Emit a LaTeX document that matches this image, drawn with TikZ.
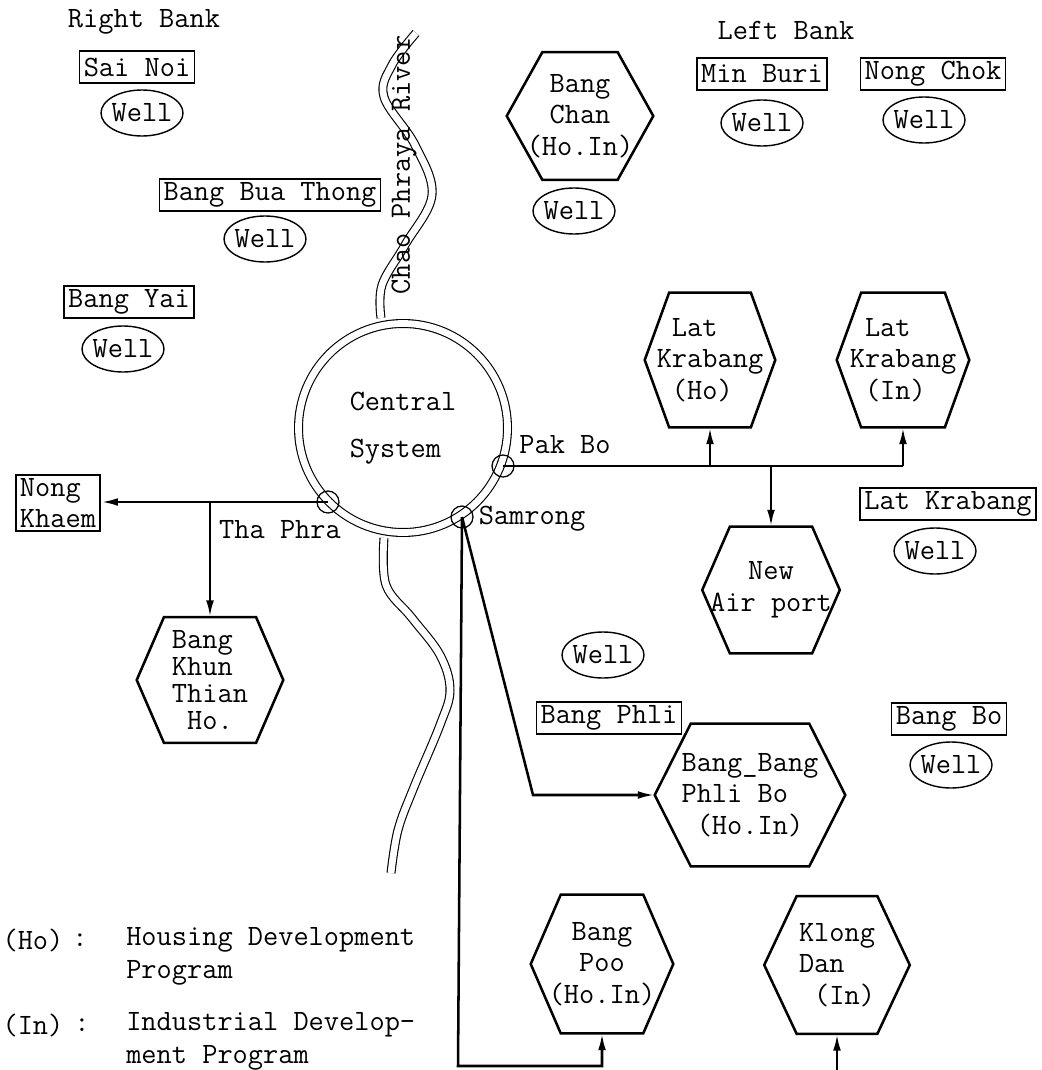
\documentclass[tikz,border=0pt]{standalone}
\usepackage{fontspec}
\usetikzlibrary{arrows.meta,shapes.geometric}
\newcommand{\typewriter}{\fontsize{21}{22.5}\selectfont\ttfamily}

\begin{document}
\begin{tikzpicture}[x=0.25mm,y=-0.25mm,
  font=\typewriter,
  town/.style={draw,line width=1.2pt,inner xsep=3pt,inner ysep=2pt,minimum height=0.8cm},
  well/.style={draw,ellipse,line width=1pt,inner xsep=-1.5pt,inner ysep=0pt,
    minimum width=2.05cm,minimum height=1.15cm},
  hexa/.style={inner sep=0pt,align=center,
    append after command={\pgfextra{\draw[line width=1.8pt,line join=miter]
      ([xshift=#1]\tikzlastnode.north west) -- ([xshift=-#1]\tikzlastnode.north east)
      -- (\tikzlastnode.east) -- ([xshift=-#1]\tikzlastnode.south east)
      -- ([xshift=#1]\tikzlastnode.south west) -- (\tikzlastnode.west) -- cycle;}}},
  hexa/.default=0.7cm,
  joint/.style={draw,circle,line width=0.9pt,minimum size=0.55cm,inner sep=0pt},
  bank/.style={line width=0.8pt,double,double distance=4.8pt},
  pipe/.style={line width=1.8pt},
  feed/.style={pipe,-{Latex[length=12pt,width=5.5pt]}},
  note/.style={anchor=west,align=left,inner sep=0pt,font=\fontsize{21}{23.5}\selectfont\ttfamily}
]
\useasboundingbox (0,0) rectangle (1041,1070);

% river
\draw[bank] plot[smooth,tension=0.6] coordinates {(381,318) (382,285) (405,245)
  (432,195) (415,145) (384,97) (392,65) (416,33)};
\draw[bank] plot[smooth,tension=0.6] coordinates {(384,538) (386,585) (412,618)
  (440,655) (450,690) (440,725) (414,787) (398,830) (391,873)};
\node[rotate=90] (rivername) at (404,165) {Chao Phraya River};

% right bank
\node (rightbank) at (144,22) {Right Bank};
\node[town] (sainoi) at (137,67) {Sai Noi};
\node[well] (sainoiwell) at (142,113) {Well};
\node[town] (buathong) at (270,195) {Bang Bua Thong};
\node[well] (buathongwell) at (265,239) {Well};
\node[town] (bangyai) at (129,302) {Bang Yai};
\node[well] (bangyaiwell) at (123,349) {Well};

% left bank
\node (leftbank) at (786,30) {Left Bank};
\node[hexa=0.89cm,minimum width=3.65cm,minimum height=3.175cm] (bangchan) at (580,116)
  {Bang\\Chan\\(Ho.In)};
\node[well] (bangchanwell) at (574,211) {Well};
\node[town] (minburi) at (762,74) {Min Buri};
\node[well] (minburiwell) at (762,123) {Well};
\node[town] (nongchok) at (933,74) {Nong Chok};
\node[well] (nongchokwell) at (924,120) {Well};

% central system
\node[circle,draw,bank,minimum size=5.225cm,align=left] (central) at (403,428)
  {Central\\[11pt]System};
\node[joint] (pakbo) at (503,466) {};
\node[joint] (thaphra) at (328,502) {};
\node[joint] (samrong) at (462,517) {};
\node (pakbolabel) at (565,445) {Pak Bo};
\node (thaphralabel) at (280,530) {Tha Phra};
\node (samronglabel) at (532,519) {Samrong};

% service areas
\node[town,align=left] (nongkhaem) at (58,503) {Nong\\Khaem};
\node[hexa=0.68cm,minimum width=3.65cm,minimum height=3.125cm,align=left,
  font=\fontsize{21}{19}\selectfont\ttfamily] (khunthian) at (210,680)
  {Bang\\Khun\\Thian\\\ Ho.};
\node[hexa=0.61cm,minimum width=3.25cm,minimum height=3.35cm,align=left] (lkho) at (710,360)
  {\ Lat\\Krabang\\\ (Ho)};
\node[hexa=0.61cm,minimum width=3.3cm,minimum height=3.35cm,align=left] (lkin) at (903,360)
  {\ Lat\\Krabang\\\ (In)};
\node[town] (latkrabang) at (948,504) {Lat Krabang};
\node[well] (latkrabangwell) at (935,551) {Well};
\node[hexa=0.69cm,minimum width=3.425cm,minimum height=3.15cm] (airport) at (771,590)
  {New\\Air port};
\node[well] (phliwell) at (603,655) {Well};
\node[town] (bangphli) at (609,718) {Bang Phli};
\node[hexa=0.9cm,minimum width=4.75cm,minimum height=3.55cm,align=left] (phlibo) at (750,795)
  {Bang\_Bang\\Phli\ Bo\\\ (Ho.In)};
\node[town] (bangbo) at (949,719) {Bang Bo};
\node[well] (bangbowell) at (951,765) {Well};
\node[hexa=0.75cm,minimum width=3.55cm,minimum height=3.45cm] (bangpoo) at (602,964)
  {Bang\\Poo\\(Ho.In)};
\node[hexa=0.81cm,minimum width=3.625cm,minimum height=3.425cm,align=left] (klongdan) at (837,965)
  {Klong\\Dan\\\ (In)};

% pipelines
\coordinate (phlibend) at (533,795);
\coordinate (poocorner) at (458,1066);
\coordinate (klongfoot) at (837,1072);
\draw[feed] (thaphra.center) -- (nongkhaem.east |- thaphra.center);
\draw[feed] (khunthian.north |- thaphra.center) -- (khunthian.north);
\draw[pipe] (pakbo.center) -- (lkin.south |- pakbo.center);
\draw[feed] (lkho.south |- pakbo.center) -- (lkho.south);
\draw[feed] (lkin.south |- pakbo.center) -- (lkin.south);
\draw[feed] (airport.north |- pakbo.center) -- (airport.north);
\draw[feed] (samrong.center) -- (phlibend) -- (phlibo.west);
\draw[feed] (samrong.center) -- (poocorner) -- (poocorner -| bangpoo.south) -- (bangpoo.south);
\draw[feed] (klongfoot) -- (klongdan.south);

% legend
\node (hokey) at (33,940) {(Ho)};
\node (hocolon) at (80,940) {:};
\node[note] (hotext) at (126,956) {Housing Development\\Program};
\node (inkey) at (33,1025) {(In)};
\node (incolon) at (82,1025) {:};
\node[note] (intext) at (126,1041) {Industrial Develop-\\ment Program};
\end{tikzpicture}
\end{document}
